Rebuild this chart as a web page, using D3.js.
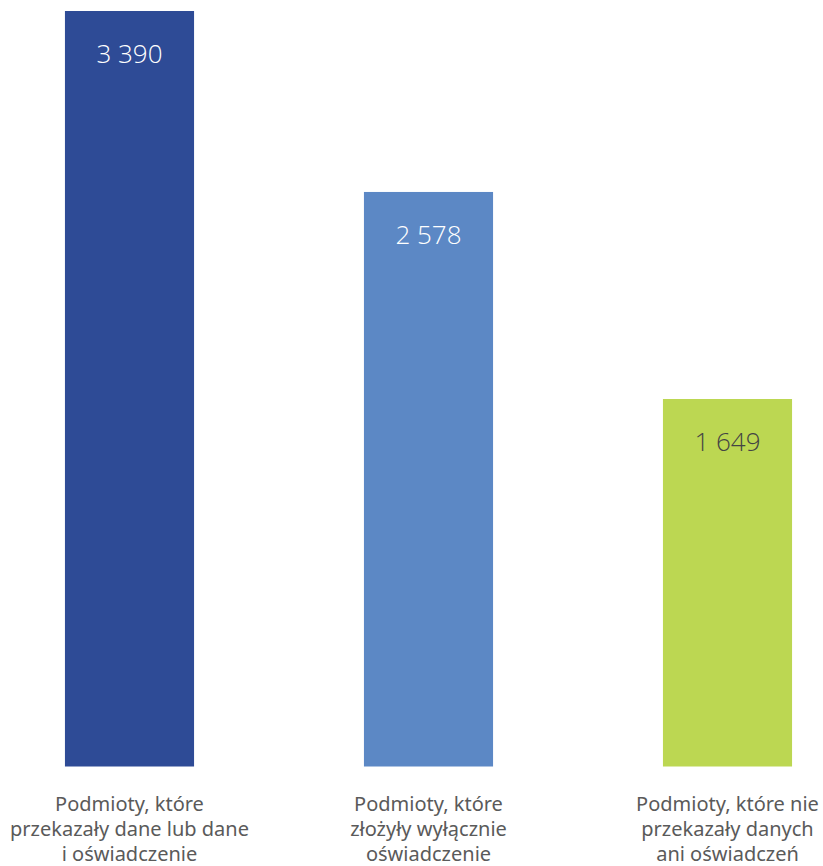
<!DOCTYPE html>
<html><head><meta charset="utf-8">
<script src="https://cdn.jsdelivr.net/npm/d3@7"></script>
<style>html,body{margin:0;padding:0;background:#fff;}</style>
</head><body>
<svg id="chart" width="823" height="866"></svg>
<script>
const categories = [
  ["Podmioty, które", "przekazały dane lub dane", "i oświadczenie"],
  ["Podmioty, które", "złożyły wyłącznie", "oświadczenie"],
  ["Podmioty, które nie", "przekazały danych", "ani oświadczeń"]
];
const values = [3390, 2578, 1649];
const valueLabels = ["3 390", "2 578", "1 649"];
const colors = ["#2E4B96", "#5C88C5", "#BCD752"];
const labelColors = ["#ffffff", "#ffffff", "#444444"];

const svg = d3.select("#chart");
const x = d3.scaleBand().domain(d3.range(values.length)).range([-20, 877]).paddingInner(0.5682).paddingOuter(0.2841);
const y = d3.scaleLinear().domain([0, 3390]).range([766.5, 11]);

const g = svg.append("g");
g.selectAll("rect").data(values).join("rect")
  .attr("x", (d, i) => x(i)).attr("width", x.bandwidth())
  .attr("y", d => y(d)).attr("height", d => y(0) - y(d))
  .attr("fill", (d, i) => colors[i]);

g.selectAll("text.val").data(values).join("text").attr("class", "val")
  .attr("x", (d, i) => x(i) + x.bandwidth() / 2)
  .attr("y", d => y(d) + 52)
  .attr("text-anchor", "middle")
  .attr("font-family", "'Open Sans', sans-serif")
  .attr("font-weight", 300)
  .attr("font-size", 26)
  .attr("fill", (d, i) => labelColors[i])
  .text((d, i) => valueLabels[i]);

categories.forEach((lines, i) => {
  const t = g.append("text")
    .attr("text-anchor", "middle")
    .attr("font-family", "'Noto Sans', sans-serif")
    .attr("font-size", 20)
    .attr("fill", "#5a5a5a");
  lines.forEach((ln, j) => {
    t.append("tspan").attr("x", x(i) + x.bandwidth() / 2).attr("y", 810.5 + j * 25).text(ln);
  });
});
</script>
</body></html>
